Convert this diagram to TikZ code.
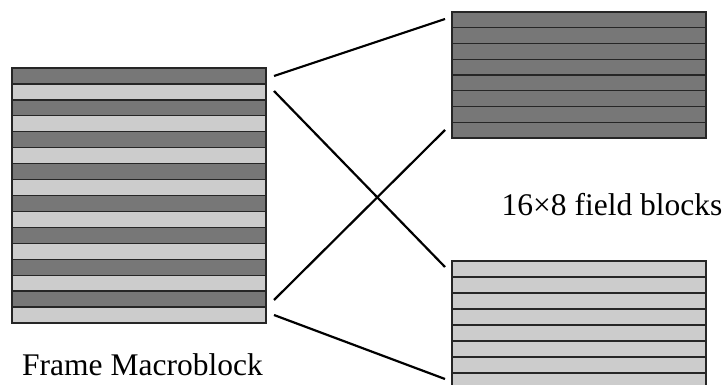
\documentclass[tikz,border=0pt]{standalone}
\usepackage{fontspec}
\setmainfont{Liberation Serif}
\definecolor{darkfield}{RGB}{119,119,119}
\definecolor{lightfield}{RGB}{204,204,204}

\begin{document}
\begin{tikzpicture}[x=1pt,y=-1pt,
    stripe/.style={draw=black!85,line width=1.3pt},
    link/.style={line width=2.2pt},
    caption/.style={anchor=base,font=\fontsize{31.5}{36}\selectfont}]
		\useasboundingbox (0,0) rectangle (726,385);
		% frame macroblock, top and bottom field lines interleaved
		\foreach \i in {0,...,7} {
			\draw[stripe,fill=darkfield] (12,68+31.875*\i) rectangle ++(254,15.9375);
			\draw[stripe,fill=lightfield] (12,83.9375+31.875*\i) rectangle ++(254,15.9375);
		}
		% the two field blocks
		\foreach \i in {0,...,7}
			\draw[stripe,fill=darkfield] (452,12+15.75*\i) rectangle ++(254,15.75);
		\begin{scope}
			\clip (440,250) rectangle (726,385);
			\foreach \i in {0,...,7}
				\draw[stripe,fill=lightfield] (452,261+16*\i) rectangle ++(254,16);
		\end{scope}
		\coordinate (mb1) at (274,76);
		\coordinate (mb2) at (274,91);
		\coordinate (mb3) at (274,300);
		\coordinate (mb4) at (274,315);
		\coordinate (top1) at (445,19);
		\coordinate (top2) at (445,130);
		\coordinate (bot1) at (445,267);
		\coordinate (bot2) at (445,379);
		\draw[link] (mb1) -- (top1);
		\draw[link] (mb2) -- (bot1);
		\draw[link] (mb3) -- (top2);
		\draw[link] (mb4) -- (bot2);
		\node[caption] (mblabel) at (142.5,375) {Frame Macroblock};
		\node[caption] (fieldlabel) at (612,215) {16×8 field blocks};
	\end{tikzpicture}
\end{document}
